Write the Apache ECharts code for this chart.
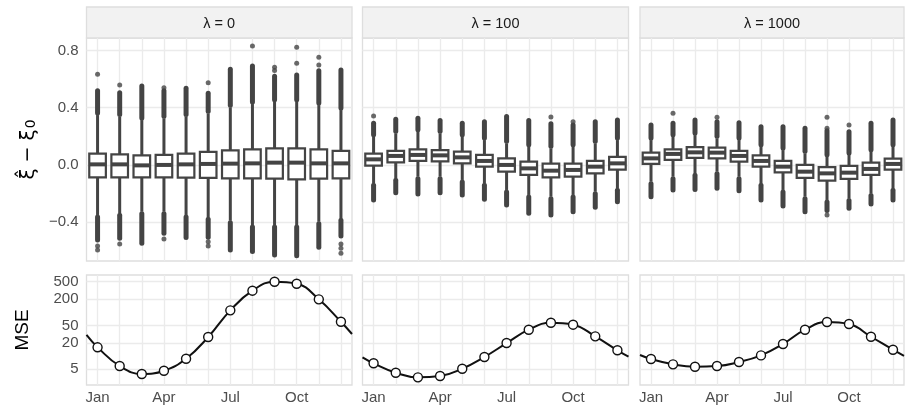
<!DOCTYPE html>
<html><head><meta charset="utf-8">
<script src="https://cdn.jsdelivr.net/npm/echarts@6/dist/echarts.min.js"></script>
<style>html,body{margin:0;padding:0;background:#fff}#c{width:906px;height:408px}</style>
</head><body><div id="c"></div><script>
// ---------- data ----------
const monthNames = ['Jan','Feb','Mar','Apr','May','Jun','Jul','Aug','Sep','Oct','Nov','Dec'];
const monthIdx = [0,1,2,3,4,5,6,7,8,9,10,11];
const labelMonths = [0,3,6,9];
const stripLabels = ['λ = 0', 'λ = 100', 'λ = 1000'];
const yTicksTop = [-0.4, 0.0, 0.4, 0.8];
const mseTicks = [5, 20, 50, 200, 500];

// lambda = 0 : box statistics of xi_hat - xi_0
const lam0_q1    = [-0.088,-0.088,-0.088,-0.088,-0.090,-0.092,-0.095,-0.095,-0.097,-0.102,-0.097,-0.095];
const lam0_med   = [0.003,0.003,-0.004,-0.001,0.003,0.006,0.008,0.010,0.015,0.015,0.010,0.010];
const lam0_q3    = [0.078,0.073,0.066,0.069,0.078,0.090,0.101,0.108,0.115,0.115,0.108,0.097];
const lam0_wLo   = [-0.351,-0.339,-0.328,-0.328,-0.351,-0.367,-0.391,-0.421,-0.421,-0.421,-0.398,-0.374];
const lam0_wHi   = [0.348,0.337,0.313,0.325,0.337,0.360,0.402,0.425,0.441,0.441,0.418,0.383];
const lam0_outLo = [-0.526,-0.514,-0.549,-0.479,-0.508,-0.507,-0.596,-0.607,-0.631,-0.636,-0.577,-0.498];
const lam0_outHi = [0.518,0.504,0.551,0.518,0.535,0.500,0.668,0.691,0.620,0.628,0.658,0.663];
const lam0_extra = [[0,0.633],[1,0.558],[3,0.539],[5,0.574],[7,0.831],[8,0.682],[8,0.660],[9,0.822],[9,0.710],[10,0.752],[10,0.698],
                    [0,-0.568],[0,-0.596],[1,-0.554],[3,-0.519],[5,-0.538],[5,-0.568],[11,-0.554],[11,-0.584],[11,-0.619]];

// lambda = 100
const lam100_q1    = [-0.006,0.017,0.027,0.024,0.010,-0.013,-0.048,-0.071,-0.088,-0.083,-0.060,-0.034];
const lam100_med   = [0.038,0.062,0.069,0.066,0.052,0.027,-0.001,-0.025,-0.041,-0.036,-0.013,0.010];
const lam100_q3    = [0.078,0.097,0.108,0.103,0.092,0.069,0.045,0.022,0.008,0.008,0.027,0.055];
const lam100_wLo   = [-0.129,-0.094,-0.083,-0.083,-0.106,-0.129,-0.176,-0.211,-0.223,-0.211,-0.188,-0.164];
const lam100_wHi   = [0.197,0.220,0.232,0.220,0.197,0.173,0.150,0.127,0.115,0.127,0.150,0.173];
const lam100_outLo = [-0.246,-0.195,-0.204,-0.195,-0.211,-0.241,-0.281,-0.339,-0.351,-0.328,-0.297,-0.258];
const lam100_outHi = [0.290,0.318,0.325,0.309,0.290,0.302,0.337,0.309,0.287,0.279,0.302,0.313];
const lam100_extra = [[0,0.341],[8,0.334],[9,0.302]];

// lambda = 1000
const lam1000_q1    = [0.006,0.034,0.048,0.045,0.022,-0.013,-0.053,-0.092,-0.111,-0.099,-0.071,-0.034];
const lam1000_med   = [0.045,0.076,0.087,0.085,0.062,0.027,-0.013,-0.048,-0.060,-0.055,-0.029,0.006];
const lam1000_q3    = [0.085,0.108,0.124,0.120,0.097,0.066,0.027,-0.001,-0.016,-0.008,0.015,0.043];
const lam1000_wLo   = [-0.118,-0.083,-0.060,-0.048,-0.083,-0.129,-0.176,-0.223,-0.246,-0.235,-0.200,-0.164];
const lam1000_wHi   = [0.173,0.197,0.208,0.185,0.173,0.127,0.103,0.080,0.057,0.069,0.092,0.127];
const lam1000_outLo = [-0.223,-0.176,-0.172,-0.164,-0.181,-0.246,-0.288,-0.328,-0.320,-0.304,-0.274,-0.246];
const lam1000_outHi = [0.278,0.290,0.313,0.302,0.295,0.267,0.267,0.255,0.239,0.232,0.290,0.313];
const lam1000_extra = [[1,0.360],[3,0.332],[8,0.332],[8,0.255],[8,-0.351],[9,0.278]];

// MSE per month (log scale), plus curve values at the panel edges (mid-Dec / mid-Jan)
const mse0    = [15.9, 5.95, 3.91, 4.64, 8.73, 27.3, 111, 312, 500, 450, 198, 61];
const mse0Edge    = [30.4, 32];
const mse100  = [6.86, 4.18, 3.28, 3.51, 5.16, 9.55, 19.9, 40.1, 57.9, 52.2, 28.3, 13.6];
const mse100Edge  = [9.4, 9.7];
const mse1000 = [8.59, 6.50, 5.73, 5.94, 7.34, 10.4, 18.9, 40.1, 60.1, 54.1, 27.7, 14.0];
const mse1000Edge = [10.6, 10.1];

// ---------- build ----------
const panels = [
  {q1:lam0_q1, med:lam0_med, q3:lam0_q3, wLo:lam0_wLo, wHi:lam0_wHi, oLo:lam0_outLo, oHi:lam0_outHi, extra:lam0_extra, mse:mse0, edge:mse0Edge},
  {q1:lam100_q1, med:lam100_med, q3:lam100_q3, wLo:lam100_wLo, wHi:lam100_wHi, oLo:lam100_outLo, oHi:lam100_outHi, extra:lam100_extra, mse:mse100, edge:mse100Edge},
  {q1:lam1000_q1, med:lam1000_med, q3:lam1000_q3, wLo:lam1000_wLo, wHi:lam1000_wHi, oLo:lam1000_outLo, oHi:lam1000_outHi, extra:lam1000_extra, mse:mse1000, edge:mse1000Edge}
];
const colX = [{left:86.5, width:265.5},{left:362.5, width:266},{left:640, width:264}];
const TOP = {top:38, height:223}, BOT = {top:275, height:110};
const dark = '#444444', gridCol = '#ebebeb', borderCol = '#dedede';
const font = '"Liberation Sans", Arial, sans-serif';

function renderBox(params, api) {
  const x = api.value(0);
  const c = v => api.coord([x, v]);
  const cx = c(api.value(1))[0];
  const yWLo = c(api.value(1))[1], yQ1 = c(api.value(2))[1], yMed = c(api.value(3))[1],
        yQ3 = c(api.value(4))[1], yWHi = c(api.value(5))[1], yOLo = c(api.value(6))[1], yOHi = c(api.value(7))[1];
  const hw = 8.3;
  return {type:'group', children:[
    {type:'line', shape:{x1:cx,y1:yWLo+2,x2:cx,y2:yOLo}, style:{stroke:dark, lineWidth:5, lineCap:'round'}},
    {type:'line', shape:{x1:cx,y1:yWHi-2,x2:cx,y2:yOHi}, style:{stroke:dark, lineWidth:5, lineCap:'round'}},
    {type:'line', shape:{x1:cx,y1:yWLo,x2:cx,y2:yWHi}, style:{stroke:dark, lineWidth:3}},
    {type:'rect', shape:{x:cx-hw,y:yQ3,width:2*hw,height:yQ1-yQ3}, style:{fill:'#fff', stroke:dark, lineWidth:2.2}},
    {type:'line', shape:{x1:cx-hw,y1:yMed,x2:cx+hw,y2:yMed}, style:{stroke:dark, lineWidth:4}}
  ]};
}

const grid = [], xAxis = [], yAxis = [], series = [], graphic = [];
colX.forEach(g => {
  grid.push({left:g.left, width:g.width, top:TOP.top, height:TOP.height, show:true, borderColor:borderCol, borderWidth:1.3, backgroundColor:'#fff'});
});
colX.forEach(g => {
  grid.push({left:g.left, width:g.width, top:BOT.top, height:BOT.height, show:true, borderColor:borderCol, borderWidth:1.3, backgroundColor:'#fff'});
});
for (let gi = 0; gi < 6; gi++) {
  const isTop = gi < 3, col = gi % 3;
  xAxis.push({
    gridIndex:gi, type:'value', min:-0.5, max:11.5,
    axisLine:{show:false}, axisTick:{show:false, customValues:monthIdx},
    axisLabel: isTop ? {show:false} : {show:true, customValues:labelMonths, formatter:v => monthNames[Math.round(v)], color:'#4d4d4d', fontSize:15, margin:5, fontFamily:font},
    splitLine:{show:true, lineStyle:{color:gridCol, width:1.3}}
  });
  if (isTop) {
    yAxis.push({
      gridIndex:gi, type:'value', min:-0.673, max:0.887,
      name: col === 0 ? '{x|ξ̂}{m| − }{x|ξ}{s|0}' : '', nameLocation:'middle', nameGap:48, nameRotate:90,
      nameTextStyle:{fontSize:20, color:'#000', fontFamily:'DejaVu Sans',
        rich:{x:{fontSize:20, fontFamily:'DejaVu Sans', color:'#000'},
              m:{fontSize:19, fontFamily:'DejaVu Sans', color:'#000'},
              s:{fontSize:14, fontFamily:'DejaVu Sans', color:'#000', verticalAlign:'bottom', padding:[0,0,0,1]}}},
      axisLine:{show:false}, axisTick:{show:false, customValues:yTicksTop},
      axisLabel:{show: col === 0, customValues:yTicksTop, formatter:v => v.toFixed(1).replace('-', '−'), color:'#4d4d4d', fontSize:15, margin:8, fontFamily:font},
      splitLine:{show:true, lineStyle:{color:gridCol, width:1.3}}
    });
  } else {
    const lt = mseTicks.map(v => Math.log10(v));
    yAxis.push({
      gridIndex:gi, type:'value', min:0.341, max:2.852,
      name: col === 0 ? 'MSE' : '', nameLocation:'middle', nameGap:54, nameRotate:90,
      nameTextStyle:{fontSize:19, color:'#000', fontFamily:font},
      axisLine:{show:false}, axisTick:{show:false, customValues:lt},
      axisLabel:{show: col === 0, customValues:lt, formatter:v => String(Math.round(Math.pow(10, v))), color:'#4d4d4d', fontSize:15, margin:8, fontFamily:font},
      splitLine:{show:true, lineStyle:{color:gridCol, width:1.3}}
    });
  }
}

panels.forEach((p, i) => {
  series.push({
    type:'custom', xAxisIndex:i, yAxisIndex:i, renderItem:renderBox, silent:true,
    data: monthIdx.map((m, k) => [m, p.wLo[k], p.q1[k], p.med[k], p.q3[k], p.wHi[k], p.oLo[k], p.oHi[k]])
  });
  series.push({
    type:'scatter', xAxisIndex:i, yAxisIndex:i, symbolSize:5, silent:true,
    itemStyle:{color:dark}, data:p.extra
  });
  const lineData = [[-0.5, Math.log10(p.edge[0])]]
    .concat(monthIdx.map((m, k) => [m, Math.log10(p.mse[k])]))
    .concat([[11.5, Math.log10(p.edge[1])]]);
  series.push({
    type:'line', xAxisIndex:i+3, yAxisIndex:i+3, data:lineData, smooth:0.45, showSymbol:false, silent:true,
    lineStyle:{color:'#111', width:2}, clip:true, z:2
  });
  series.push({
    type:'scatter', xAxisIndex:i+3, yAxisIndex:i+3, silent:true, z:3,
    symbol:'circle', symbolSize:9,
    itemStyle:{color:'#ffffff', opacity:1, borderColor:'#111', borderWidth:1.4},
    data: monthIdx.map((m, k) => [m, Math.log10(p.mse[k])])
  });
  const g = colX[i];
  graphic.push({type:'rect', silent:true, shape:{x:g.left, y:7, width:g.width, height:31},
    style:{fill:'#f2f2f2', stroke:borderCol, lineWidth:1.3}});
  graphic.push({type:'text', silent:true, x:g.left + g.width/2, y:23.5,
    style:{text:stripLabels[i], font:'14.5px ' + font, fill:'#1a1a1a', align:'center', verticalAlign:'middle'}});
});

const chart = echarts.init(document.getElementById('c'), null, {renderer:'canvas'});
chart.setOption({
  animation:false, backgroundColor:'#fff',
  textStyle:{fontFamily:font},
  grid, xAxis, yAxis, series, graphic
});
</script></body></html>
